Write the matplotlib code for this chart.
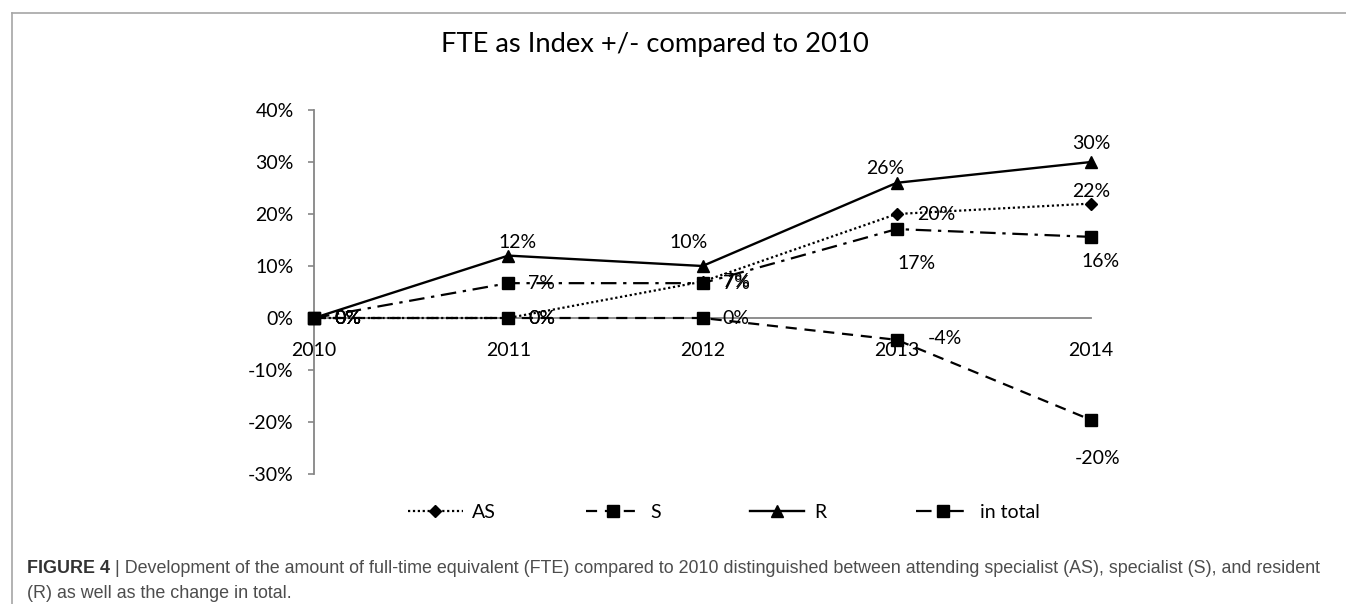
import matplotlib
matplotlib.use("Agg")
import matplotlib.pyplot as plt
from matplotlib.lines import Line2D
from matplotlib.ticker import PercentFormatter

plt.rcParams["font.family"] = ["Lato", "DejaVu Sans"]
plt.rcParams["axes.unicode_minus"] = False

# data (share of change vs. 2010)
years = ["2010", "2011", "2012", "2013", "2014"]
as_vals = [0.0, 0.0, 0.07, 0.20, 0.22]
s_vals = [0.0, 0.0, 0.0, -0.042, -0.196]
r_vals = [0.0, 0.12, 0.10, 0.26, 0.30]
total_vals = [0.0, 0.067, 0.067, 0.171, 0.156]
series_names = ["AS", "S", "R", "in total"]

W, H = 1346, 604
fig = plt.figure(figsize=(W / 100, H / 100), dpi=100)
ax = fig.add_axes([314 / W, 1 - 474 / H, (1091 - 314) / W, (474 - 110) / H])

x = list(range(len(years)))
axis_grey = "#868686"

styles = [
    dict(ls=(0, (1, 1.2)), lw=1.6, marker="D", ms=6.5),
    dict(ls=(0, (5, 3.5)), lw=1.6, marker="s", ms=8),
    dict(ls="-", lw=1.7, marker="^", ms=8.5),
    dict(ls=(0, (7, 3, 1.5, 3)), lw=1.6, marker="s", ms=8),
]

# label offsets in points, per point (ha, dx, dy)
R_ = ("left", 14.5, 0)
label_pos = [
    [R_, R_, R_, R_, ("center", 0, 9)],
    [R_, R_, R_, ("left", 22, 1), ("center", 5, -28)],
    [R_, ("center", 7, 9.5), ("center", -10, 17), ("center", -8.5, 10.5), ("center", 0, 13.5)],
    [R_, R_, R_, ("center", 14, -24.5), ("center", 7, -18)],
]

all_vals = [as_vals, s_vals, r_vals, total_vals]
handles = []
for vals, name, st, pos in zip(all_vals, series_names, styles, label_pos):
    line, = ax.plot(x, vals, color="black", linestyle=st["ls"], linewidth=st["lw"],
                    marker=st["marker"], markersize=st["ms"], markerfacecolor="black",
                    markeredgecolor="black", label=name, clip_on=False, zorder=3)
    handles.append(line)
    for xi, v, (ha, dx, dy) in zip(x, vals, pos):
        ax.annotate(f"{v:.0%}", (xi, v), xytext=(dx, dy), textcoords="offset points",
                    ha=ha, va="center", fontsize=14, color="black", zorder=5)

ax.set_xlim(0, 4)
ax.set_ylim(-0.3, 0.4)
ax.set_yticks([-0.3, -0.2, -0.1, 0, 0.1, 0.2, 0.3, 0.4])
ax.yaxis.set_major_formatter(PercentFormatter(1.0, decimals=0))
ax.set_xticks(x)
ax.set_xticklabels(years)

for side in ["top", "right"]:
    ax.spines[side].set_visible(False)
ax.spines["left"].set_color(axis_grey)
ax.spines["left"].set_linewidth(1.3)
ax.spines["bottom"].set_position(("data", 0))
ax.spines["bottom"].set_color(axis_grey)
ax.spines["bottom"].set_linewidth(1.3)
ax.tick_params(axis="y", length=4.5, width=1.2, color=axis_grey, pad=10, labelsize=14)
ax.tick_params(axis="x", length=0, pad=17, labelsize=14)
ax.patch.set_visible(False)

fig.text(655 / W, 1 - 52 / H, "FTE as Index +/- compared to 2010", ha="center",
         va="baseline", fontsize=19.7)

fig.legend(handles=handles, labels=series_names, loc="center",
           bbox_to_anchor=(724 / W, 1 - 512 / H), ncol=4, frameon=False, fontsize=14,
           handlelength=2.8, handletextpad=0.5, columnspacing=4.6, numpoints=1)

# frame lines of the chart area
frame_grey = "#a6a6a6"
fig.add_artist(Line2D([12 / W, 12 / W], [0, 1 - 13 / H], transform=fig.transFigure,
                      color=frame_grey, lw=1.2))
fig.add_artist(Line2D([12 / W, 1], [1 - 13 / H, 1 - 13 / H], transform=fig.transFigure,
                      color=frame_grey, lw=1.2))

# caption
cap_font = ["Liberation Sans", "DejaVu Sans"]
cap_size = 12.9
t1 = fig.text(27 / W, 1 - 573 / H, "FIGURE 4", fontsize=cap_size, fontweight="bold",
              color="#333333", family=cap_font, va="baseline")
ax.annotate(" | Development of the amount of full-time equivalent (FTE) compared to 2010 "
            "distinguished between attending specialist (AS), specialist (S), and resident",
            xy=(1, 0), xycoords=t1, va="bottom", ha="left", fontsize=cap_size,
            color="#4d4d4d", family=cap_font, annotation_clip=False)
fig.text(27 / W, 1 - 598 / H, "(R) as well as the change in total.", fontsize=cap_size,
         color="#4d4d4d", family=cap_font, va="baseline")

fig.savefig("out.png", dpi=100)
